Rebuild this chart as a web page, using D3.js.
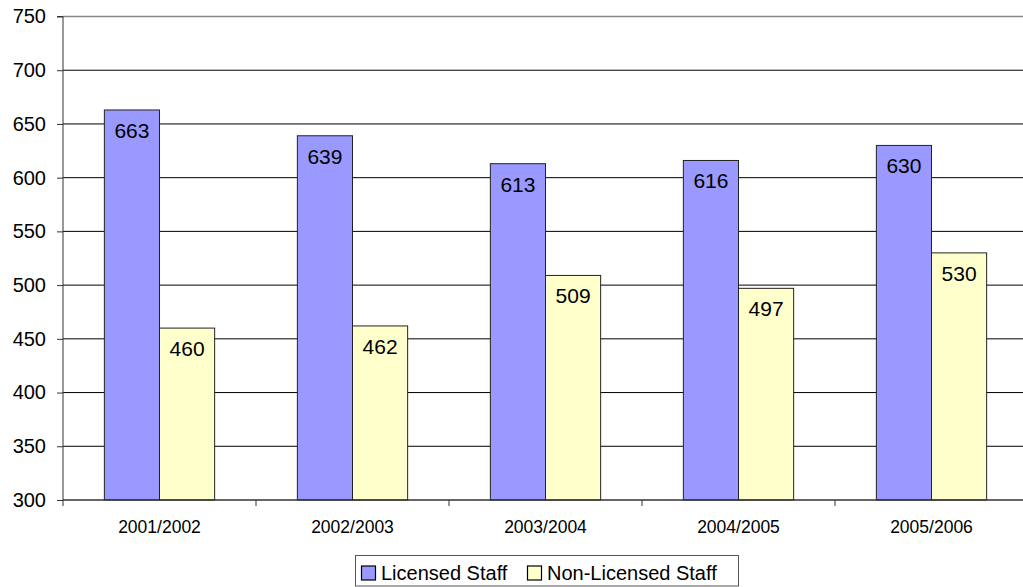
<!DOCTYPE html>
<html><head><meta charset="utf-8">
<script src="https://cdn.jsdelivr.net/npm/d3@7"></script>
<style>body{margin:0;background:#fff;}svg{display:block;font-family:"Liberation Sans",Arial,Helvetica,sans-serif;}</style>
</head><body>
<svg id="c" width="1023" height="587"></svg>
<script>
const categories = ["2001/2002","2002/2003","2003/2004","2004/2005","2005/2006"];
const seriesNames = ["Licensed Staff","Non-Licensed Staff"];
const licensed = [663,639,613,616,630];
const nonLicensed = [460,462,509,497,530];
const yTicks = [300,350,400,450,500,550,600,650,700,750];
const colors = ["#9999ff","#ffffcc"];

(function(){
const svg = d3.select("#c");
const pL = 63, pR = 1028, pT = 16.5, pB = 500;
const x = d3.scaleBand().domain(categories).range([pL, pR]).paddingInner(0).paddingOuter(0);
const y = d3.scaleLinear().domain([300,750]).range([pB, pT]);
const inner = d3.scaleBand().domain([0,1]).range([0, x.bandwidth()]).paddingInner(0).paddingOuter(0.75);

// gridlines
svg.append("g").selectAll("line").data(yTicks.filter(d=>d>300)).join("line")
  .attr("x1", pL).attr("x2", 1023)
  .attr("y1", d=>y(d)).attr("y2", d=>y(d))
  .attr("stroke", d=>d===750?"#888":"#000").attr("stroke-width", d=>d===750?1.5:1);

// bars
const data = categories.map((c,i)=>({c, vals:[licensed[i], nonLicensed[i]]}));
const g = svg.append("g");
data.forEach(d=>{
  d.vals.forEach((v,j)=>{
    const bx = x(d.c) + inner(j);
    g.append("rect").attr("x", bx).attr("y", y(v)).attr("width", inner.bandwidth()).attr("height", y(300)-y(v))
      .attr("fill", colors[j]).attr("stroke", "#222").attr("stroke-width", 1);
    g.append("text").attr("x", bx + inner.bandwidth()/2).attr("y", y(v)+28)
      .attr("text-anchor","middle").attr("font-size", 21).attr("fill","#000").text(v);
  });
});

// y axis
const ya = d3.axisLeft(y).tickValues(yTicks).tickSize(6).tickPadding(11).tickFormat(d3.format("d"));
const yg = svg.append("g").attr("transform", `translate(${pL},0)`).call(ya);
yg.select(".domain").attr("stroke","#333").attr("d", `M-6,${pT}H0V${pB}`);
yg.selectAll("text").attr("font-size", 20).attr("fill","#000").attr("font-family","inherit");
yg.selectAll(".tick line").attr("stroke","#333");

// x axis
const xg = svg.append("g").attr("transform", `translate(0,${pB})`);
xg.append("line").attr("x1", pL).attr("x2", 1023).attr("y1",0).attr("y2",0).attr("stroke","#333").attr("stroke-width",1.5);
xg.selectAll("line.t").data(categories.map((c,i)=>i)).join("line").attr("class","t")
  .attr("x1", i=>pL + i*x.step()).attr("x2", i=>pL + i*x.step()).attr("y1",0).attr("y2",6).attr("stroke","#333");
xg.selectAll("text").data(categories).join("text")
  .attr("x", d=>x(d)+x.bandwidth()/2).attr("y", 33).attr("text-anchor","middle").attr("font-size", 17.5).attr("fill","#000").text(d=>d);

// legend
const lg = svg.append("g");
lg.append("rect").attr("x", 355.5).attr("y", 555.5).attr("width", 383).attr("height", 30.5).attr("fill","#fff").attr("stroke","#555");
const items = [{n:seriesNames[0], c:colors[0], x:361.5},{n:seriesNames[1], c:colors[1], x:527.5}];
items.forEach(it=>{
  lg.append("rect").attr("x", it.x).attr("y", 566).attr("width", 14).attr("height", 14).attr("fill", it.c).attr("stroke","#000").attr("stroke-width",1.2);
  lg.append("text").attr("x", it.x+19.5).attr("y", 580).attr("font-size", 20).attr("fill","#000").text(it.n);
});
})();
</script>
</body></html>
